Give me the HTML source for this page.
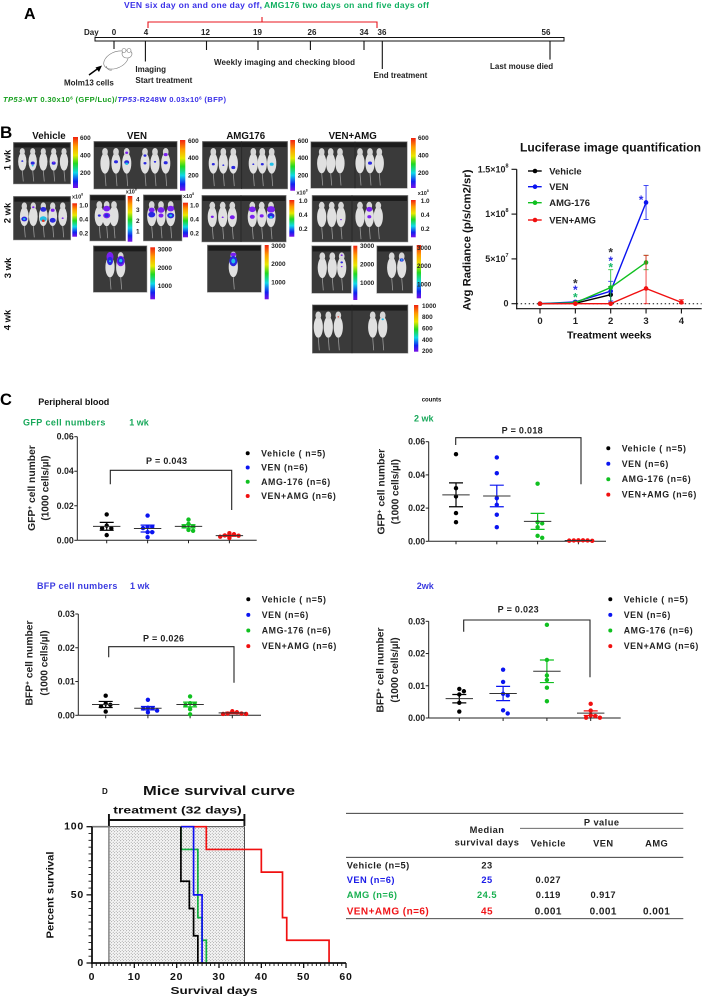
<!DOCTYPE html>
<html lang="en">
<head>
<meta charset="utf-8">
<title>Multi-panel figure: venetoclax and AMG176 treatment in mice</title>
<style>
html,body{margin:0;padding:0;background:#fff;}
svg{display:block;font-family:"Liberation Sans",Arial,sans-serif;font-weight:bold;}
</style>
</head>
<body>
<svg id="figure" xmlns="http://www.w3.org/2000/svg" width="707" height="997" viewBox="0 0 707 997">
<defs>
<linearGradient id="rainbow" x1="0" y1="0" x2="0" y2="1">
<stop offset="0" stop-color="#f02010"/><stop offset="0.18" stop-color="#ff9a00"/><stop offset="0.36" stop-color="#e8e800"/><stop offset="0.52" stop-color="#20d820"/><stop offset="0.7" stop-color="#10d8e8"/><stop offset="0.87" stop-color="#1020f0"/><stop offset="1" stop-color="#7a10e8"/>
</linearGradient>
<pattern id="stipple" width="3" height="3" patternUnits="userSpaceOnUse">
<rect width="3" height="3" fill="#f6f6f6"/><circle cx="0.7" cy="0.7" r="0.45" fill="#777"/><circle cx="2.2" cy="2.2" r="0.45" fill="#777"/>
</pattern>
</defs>

<rect width="707" height="997" fill="#fff"/>

<!-- Panel A -->
<g id="panel-a">
<text x="24" y="19" font-size="16" fill="#000">A</text>
<text x="124" y="8" font-size="8.5" fill="#3a30e8" textLength="138">VEN six day on and one day off,</text>
<text x="264" y="8" font-size="8.5" fill="#10b060" textLength="165">AMG176 two days on and five days off</text>
<path d="M148 28V22H377V28M262 22V17" fill="none" stroke="#e8141c" stroke-width="1.1"/>
<text x="84" y="35" font-size="8" fill="#222">Day</text>
<rect x="95" y="37.5" width="469" height="3.5" fill="#fff" stroke="#111" stroke-width="1"/>
<g stroke="#111" stroke-width="1.1">
<line x1="114" x2="114" y1="41" y2="49"/>
<line x1="145.4" x2="145.4" y1="41" y2="61.5"/>
<line x1="206.5" x2="206.5" y1="41" y2="50"/>
<line x1="258" x2="258" y1="41" y2="50"/>
<line x1="310.4" x2="310.4" y1="41" y2="50"/>
<line x1="364" x2="364" y1="41" y2="50"/>
<line x1="382.3" x2="382.3" y1="41" y2="69"/>
<line x1="550" x2="550" y1="41" y2="59.6"/>
</g>
<g font-size="8" fill="#222" text-anchor="middle">
<text x="114" y="35">0</text>
<text x="146" y="35">4</text>
<text x="205.5" y="35">12</text>
<text x="257.5" y="35">19</text>
<text x="312" y="35">26</text>
<text x="364" y="35">34</text>
<text x="382" y="35">36</text>
<text x="546" y="35">56</text>
</g>
<g fill="#fff" stroke="#777" stroke-width="0.6">
<ellipse cx="116" cy="60" rx="13" ry="8" transform="rotate(-25 116 60)"/>
<ellipse cx="127" cy="54" rx="5" ry="4"/>
<circle cx="124" cy="50.5" r="2"/>
<circle cx="129" cy="50.5" r="2"/>
<path d="M106 66Q108 71 112 70" fill="none"/>
</g>
<path d="M89 75L100 67" stroke="#000" stroke-width="1.4" fill="none"/>
<polygon points="102,65.5 95.5,67.5 99,72" fill="#000"/>
<text x="64" y="85.5" font-size="8" fill="#222">Molm13 cells</text>
<text x="135.4" y="72" font-size="8" fill="#222">Imaging</text>
<text x="135.4" y="83" font-size="8" fill="#222">Start treatment</text>
<text x="214" y="65" font-size="8" fill="#222" textLength="141">Weekly imaging and checking blood</text>
<text x="373.5" y="78" font-size="8" fill="#222">End treatment</text>
<text x="490" y="69" font-size="8" fill="#222">Last mouse died</text>
<text x="3" y="102" font-size="7.6" textLength="223"><tspan fill="#18a020"><tspan font-style="italic">TP53</tspan>-WT 0.30x10<tspan font-size="4.5" dy="-2.5">6</tspan><tspan dy="2.5">  (GFP/Luc)/</tspan></tspan><tspan fill="#3a30e8"><tspan font-style="italic">TP53</tspan>-R248W 0.03x10<tspan font-size="4.5" dy="-2.5">6</tspan><tspan dy="2.5"> (BFP)</tspan></tspan></text>
</g>

<!-- Panel B -->
<g id="panel-b">
<text x="0" y="138" font-size="17" fill="#000">B</text>
<g font-size="9.7" fill="#111" text-anchor="middle">
<text x="49" y="139">Vehicle</text>
<text x="137" y="139">VEN</text>
<text x="245.7" y="139">AMG176</text>
<text x="352.7" y="139">VEN+AMG</text>
</g>
<g font-size="9.5" fill="#111" text-anchor="middle">
<text transform="translate(10.5 160) rotate(-90)">1 wk</text>
<text transform="translate(10.5 213) rotate(-90)">2 wk</text>
<text transform="translate(11 268) rotate(-90)">3 wk</text>
<text transform="translate(10.5 320) rotate(-90)">4 wk</text>
</g>
<g id="mouse-images"></g>
<g id="color-bars"></g>
</g>

<!-- Luciferase chart -->
<g id="luciferase-chart">
<text x="520" y="151.5" font-size="11.5" fill="#111" textLength="181" lengthAdjust="spacingAndGlyphs">Luciferase image quantification</text>
<text transform="translate(470.5 240) rotate(-90)" font-size="11" fill="#111" text-anchor="middle" textLength="141" lengthAdjust="spacingAndGlyphs">Avg Radiance (p/s/cm2/sr)</text>
<text x="609.3" y="338.5" font-size="10.5" fill="#111" text-anchor="middle">Treatment weeks</text>
</g>

<!-- Panel C -->
<g id="panel-c">
<text x="0" y="405" font-size="16.5" fill="#000">C</text>
<text x="38.3" y="404.8" font-size="9" fill="#111">Peripheral blood</text>
<text x="23" y="425.5" font-size="9" letter-spacing="0.4" fill="#18a85a">GFP cell numbers</text>
<text x="129.3" y="425.5" font-size="9" fill="#18a85a">1 wk</text>
<text x="421.7" y="401.5" font-size="6" fill="#111">counts</text>
<text x="414" y="421.5" font-size="9" fill="#18a85a">2 wk</text>
<text x="37" y="589" font-size="9" letter-spacing="0.3" fill="#3a3ae0">BFP cell numbers</text>
<text x="130" y="589" font-size="9" fill="#3a3ae0">1 wk</text>
<text x="416.7" y="589" font-size="9" fill="#3a3ae0">2wk</text>
<g id="dot-charts"></g>
</g>

<!-- Panel D -->
<g id="survival-chart">
<text x="102" y="794" font-size="8" fill="#111">D</text>
<text x="143" y="795" font-size="12.5" fill="#111" textLength="152" lengthAdjust="spacingAndGlyphs">Mice survival curve</text>
<text x="113.3" y="813.5" font-size="10" fill="#111" textLength="128.4" lengthAdjust="spacingAndGlyphs">treatment (32 days)</text>
<text x="170.5" y="994" font-size="10.5" fill="#111" textLength="87" lengthAdjust="spacingAndGlyphs">Survival days</text>
<text transform="translate(53.5 895) rotate(-90)" font-size="10.5" fill="#111" text-anchor="middle" textLength="87" lengthAdjust="spacingAndGlyphs">Percent survival</text>
</g>

<!-- Survival table -->
<g id="survival-table" font-size="9.3" letter-spacing="0.45" fill="#222">
<line x1="346" x2="683.3" y1="813.3" y2="813.3" stroke="#222" stroke-width="0.9"/>
<line x1="520" x2="683.3" y1="828.3" y2="828.3" stroke="#555" stroke-width="0.8"/>
<line x1="346" x2="683.3" y1="857.3" y2="857.3" stroke="#222" stroke-width="0.9"/>
<line x1="346" x2="683.3" y1="918.7" y2="918.7" stroke="#333" stroke-width="0.9"/>
<g text-anchor="middle">
<text x="487" y="833">Median</text>
<text x="487" y="845.5">survival days</text>
<text x="601.7" y="825.7">P value</text>
<text x="548.3" y="846.5">Vehicle</text>
<text x="603.3" y="846.5">VEN</text>
<text x="656.7" y="846.5">AMG</text>
</g>
<g fill="#222">
<text x="346.7" y="868.5">Vehicle (n=5)</text>
<text x="487" y="868.5" text-anchor="middle">23</text>
</g>
<g>
<text x="346.7" y="883.2" fill="#1c1ce8">VEN (n=6)</text>
<text x="487" y="883.2" text-anchor="middle" fill="#1c1ce8">25</text>
<text x="548.3" y="883.2" text-anchor="middle">0.027</text>
</g>
<g>
<text x="346.7" y="898.2" fill="#18b050">AMG (n=6)</text>
<text x="487" y="898.2" text-anchor="middle" fill="#18b050">24.5</text>
<text x="548.3" y="898.2" text-anchor="middle">0.119</text>
<text x="603.3" y="898.2" text-anchor="middle">0.917</text>
</g>
<g>
<text x="346.7" y="914.5" font-size="10" fill="#f01418">VEN+AMG (n=6)</text>
<text x="487" y="914.5" text-anchor="middle" font-size="10" fill="#f01418">45</text>
<text x="548.3" y="914.5" text-anchor="middle" font-size="10">0.001</text>
<text x="603.3" y="914.5" text-anchor="middle" font-size="10">0.001</text>
<text x="656.7" y="914.5" text-anchor="middle" font-size="10">0.001</text>
</g>
</g>
</svg>

<script>
/* ---------- Luciferase chart data ---------- */
const lucSeriesNames = ['Vehicle', 'VEN', 'AMG-176', 'VEN+AMG'];
const lucWeekTicks = [0, 1, 2, 3, 4];
const lucYTickValues = [0, 5e7, 1e8, 1.5e8];
const lucYTickLabels = ['0', '5×10^7', '1×10^8', '1.5×10^8'];
const lucVehicle = [0, 0.05e7, 1.0e7];
const lucVehicleErr = [0, 0.05e7, 0.9e7];
const lucVen = [0, 0.2e7, 1.4e7, 11.3e7];
const lucVenErr = [0, 0.1e7, 1.1e7, 1.9e7];
const lucAmg = [0, 0.1e7, 1.8e7, 4.6e7];
const lucAmgErr = [0, 0.1e7, 2.0e7, 0.8e7];
const lucCombo = [0, 0, 0, 1.7e7, 0.15e7];
const lucComboErr = [0, 0, 0, 3.7e7, 0.3e7];

/* ---------- Dot chart data (1000 cells/ul) ---------- */
const dotGroupNames = ['Vehicle ( n=5)', 'VEN (n=6)', 'AMG-176 (n=6)', 'VEN+AMG (n=6)'];
const gfpTickValues = [0, 0.02, 0.04, 0.06];
const gfpTickLabels = ['0.00', '0.02', '0.04', '0.06'];
const bfpTickValues = [0, 0.01, 0.02, 0.03];
const bfpTickLabels = ['0.00', '0.01', '0.02', '0.03'];

const gfp1wkVehicle = [0.015, 0.0085, 0.007, 0.007, 0.003];
const gfp1wkVen = [0.0143, 0.0078, 0.0078, 0.0071, 0.0047, 0.0047, 0.0018];
const gfp1wkAmg = [0.012, 0.0095, 0.008, 0.008, 0.006, 0.0055];
const gfp1wkCombo = [0.0041, 0.0035, 0.0028, 0.0027, 0.0021, 0.0014];
const gfp1wkMeans = [0.0081, 0.0068, 0.0081, 0.0027];
const gfp1wkErrors = [0.0023, 0.002, 0.0009, 0.0004];

const gfp2wkVehicle = [0.0525, 0.032, 0.027, 0.017, 0.0115];
const gfp2wkVen = [0.0505, 0.041, 0.026, 0.022, 0.016, 0.0085];
const gfp2wkAmg = [0.0347, 0.0115, 0.0108, 0.0085, 0.0033, 0.0021];
const gfp2wkCombo = [0.0006, 0.0006, 0.0005, 0.0005, 0.0004, 0.0003];
const gfp2wkMeans = [0.028, 0.0273, 0.012, 0.0005];
const gfp2wkErrors = [0.0072, 0.0065, 0.0048, 0.0001];

const bfp1wkVehicle = [0.0058, 0.0035, 0.0031, 0.0027, 0.0011];
const bfp1wkVen = [0.0046, 0.0022, 0.0021, 0.002, 0.0014, 0.0009];
const bfp1wkAmg = [0.0056, 0.0036, 0.0033, 0.0031, 0.0018, 0.0003];
const bfp1wkCombo = [0.0012, 0.0009, 0.0005, 0.0005, 0.0004, 0.0004];
const bfp1wkMeans = [0.0032, 0.0021, 0.0032, 0.0007];
const bfp1wkErrors = [0.0009, 0.0005, 0.0007, 0.0002];

const bfp2wkVehicle = [0.009, 0.0083, 0.0073, 0.0047, 0.002];
const bfp2wkVen = [0.015, 0.0112, 0.0075, 0.007, 0.0024, 0.0014];
const bfp2wkAmg = [0.0289, 0.018, 0.0132, 0.0118, 0.0094, 0.0052];
const bfp2wkCombo = [0.0044, 0.0023, 0.0008, 0.0006, 0.0001, 0.0001];
const bfp2wkMeans = [0.006, 0.0076, 0.0145, 0.0015];
const bfp2wkErrors = [0.0013, 0.0022, 0.0035, 0.0007];

/* ---------- Survival data ---------- */
const survivalXTicks = [0, 10, 20, 30, 40, 50, 60];
const survivalYTicks = [0, 50, 100];
const treatmentStartDay = 4;
const treatmentEndDay = 36;
const vehicleDays = [21, 23, 24, 25];
const vehicleSurvival = [60, 40, 20, 0];
const venDays = [24, 26];
const venSurvival = [50, 0];
const amgDays = [21, 25, 26, 27];
const amgSurvival = [83.3, 33.3, 16.7, 0];
const comboDays = [27, 40, 45, 46, 56];
const comboSurvival = [83.3, 66.7, 33.3, 16.7, 0];

/* ---------- Helpers ---------- */
const NS = 'http://www.w3.org/2000/svg';
const GROUP_COLORS = ['#000000', '#0a14f0', '#10c020', '#f01010'];
const fig = document.getElementById('figure');

function mk(tag, attrs, parent) {
  const e = document.createElementNS(NS, tag);
  for (const k in attrs) e.setAttribute(k, attrs[k]);
  parent.appendChild(e);
  return e;
}
function label(parent, x, y, str, attrs) {
  const t = mk('text', Object.assign({ x: x, y: y, 'dominant-baseline': 'central' }, attrs), parent);
  const parts = String(str).split('^');
  t.appendChild(document.createTextNode(parts[0]));
  if (parts[1]) {
    const s = mk('tspan', { dy: -3, 'font-size': parseFloat(attrs['font-size']) * 0.6 }, t);
    s.textContent = parts[1];
  }
  return t;
}

/* ---------- Luciferase chart ---------- */
(function () {
  const root = document.getElementById('luciferase-chart');
  const xS = w => 540 + w * 35.35;
  const yS = v => 303.7 - (v / 1.5e8) * 134.4;
  const all = [
    { values: lucVehicle, errs: lucVehicleErr, color: GROUP_COLORS[0] },
    { values: lucVen, errs: lucVenErr, color: GROUP_COLORS[1] },
    { values: lucAmg, errs: lucAmgErr, color: GROUP_COLORS[2] },
    { values: lucCombo, errs: lucComboErr, color: GROUP_COLORS[3] }
  ];

  const zero = mk('line', { x1: 516.7, x2: 701.7, y1: yS(0), y2: yS(0), stroke: '#111', 'stroke-width': 1, 'stroke-dasharray': '1.4 2.6' }, root);
  
  

  const axisY = mk('line', { x1: 516.7, x2: 516.7, y1: yS(1.5e8), y2: 309.2, stroke: '#111', 'stroke-width': 1.2 }, root);
  
  
  const axisX = mk('line', { x1: 516.2, x2: 701.7, y1: 308.7, y2: 308.7, stroke: '#111', 'stroke-width': 1.2 }, root);
  
  

  lucYTickValues.forEach((v, i) => {
    const t = mk('line', { x1: 511.5, x2: 516.7, y1: yS(v), y2: yS(v), stroke: '#111', 'stroke-width': 1.1 }, root);
    
    
    const l = label(root, 508.5, yS(v), lucYTickLabels[i], { 'font-size': 9, 'text-anchor': 'end', fill: '#222' });
    
    
  });
  lucWeekTicks.forEach(w => {
    const t = mk('line', { x1: xS(w), x2: xS(w), y1: 308.7, y2: 313.5, stroke: '#111', 'stroke-width': 1.1 }, root);
    
    
    const l = label(root, xS(w), 321.7, String(w), { 'font-size': 9.5, 'text-anchor': 'middle', fill: '#222' });
    
    
  });

  all.forEach((s, si) => {
    const g = mk('g', {}, root);
    
    
    const d = s.values.map((v, i) => (i ? 'L' : 'M') + xS(i) + ' ' + yS(v)).join('');
    const line = mk('path', { d: d, fill: 'none', stroke: s.color, 'stroke-width': 1.4 }, g);
    
    
    s.values.forEach((v, i) => {
      const e = s.errs[i];
      if (e > 0) {
        const bar = mk('path', {
          d: 'M' + xS(i) + ' ' + yS(v + e) + 'V' + yS(Math.max(v - e, 0)) +
             'M' + (xS(i) - 2.5) + ' ' + yS(v + e) + 'h5M' + (xS(i) - 2.5) + ' ' + yS(Math.max(v - e, 0)) + 'h5',
          fill: 'none', stroke: s.color, 'stroke-width': 0.9, opacity: 0.85
        }, g);
        
        
      }
      const p = mk('circle', { cx: xS(i), cy: yS(v), r: 2.3, fill: s.color }, g);
      
      
    });
    const ly = [171, 186.7, 202.7, 220][si];
    const ll = mk('line', { x1: 528, x2: 541.7, y1: ly, y2: ly, stroke: s.color, 'stroke-width': 1.4 }, g);
    
    
    const lp = mk('circle', { cx: 535, cy: ly, r: 2.3, fill: s.color }, g);
    
    
    const lt = label(g, 549.3, ly, lucSeriesNames[si], { 'font-size': 9.4, fill: '#222' });
    
    
  });

  [[1, 281, '#333'], [1, 287.7, '#2a2ae8'], [1, 295, '#18b868'],
   [2, 250, '#333'], [2, 258.3, '#2a2ae8'], [2, 265, '#18b868'],
   [2.86, 197.7, '#2a2ae8']].forEach(a => {
    const star = label(root, xS(a[0]), a[1] + 2.5, '*', { 'font-size': 12, 'text-anchor': 'middle', fill: a[2] });
    
    
  });
})();

/* ---------- Dot charts ---------- */
function drawDotChart(c) {
  const root = document.getElementById('dot-charts');
  const g = mk('g', {}, root);
  
  
  const yMax = c.tickValues[c.tickValues.length - 1];
  const yS = v => c.y0 - (v / yMax) * (c.y0 - c.yTop);
  const xS = i => c.xFirst + i * c.xStep;

  const ay = mk('line', { x1: c.x0, x2: c.x0, y1: c.yTop, y2: c.y0, stroke: '#222', 'stroke-width': 1 }, g);
  
  
  const ax = mk('line', { x1: c.x0, x2: c.xEnd, y1: c.y0, y2: c.y0, stroke: '#222', 'stroke-width': 1 }, g);
  
  

  c.tickValues.forEach((v, i) => {
    const t = mk('line', { x1: c.x0 - 3, x2: c.x0, y1: yS(v), y2: yS(v), stroke: '#222', 'stroke-width': 1 }, g);
    
    
    const l = label(g, c.x0 - 3.5, yS(v), c.tickLabels[i], { 'font-size': 8.8, 'text-anchor': 'end', fill: '#222' });
    
    
  });

  c.groups.forEach((vals, gi) => {
    const color = GROUP_COLORS[gi];
    const cx = xS(gi);
    const t = mk('line', { x1: cx, x2: cx, y1: c.y0, y2: c.y0 + 3, stroke: '#222', 'stroke-width': 1 }, g);
    
    

    const grp = mk('g', {}, g);
    
    

    const m = c.means[gi], e = c.errors[gi];
    const err = mk('path', {
      d: 'M' + cx + ' ' + yS(m + e) + 'V' + yS(Math.max(m - e, 0)) +
         'M' + (cx - 7) + ' ' + yS(m + e) + 'h14M' + (cx - 7) + ' ' + yS(Math.max(m - e, 0)) + 'h14',
      fill: 'none', stroke: color, 'stroke-width': 1.2
    }, grp);
    
    

    /* beeswarm offsets derived from the values */
    const placed = [];
    vals.forEach(v => {
      const py = yS(v);
      const d = 4.6;
      const candidates = [0, d, -d, 2 * d, -2 * d, 3 * d, -3 * d];
      let off = candidates[candidates.length - 1];
      for (const cand of candidates) {
        if (!placed.some(p => Math.abs(p.x - cand) < 3.8 && Math.abs(p.y - py) < 3.8)) { off = cand; break; }
      }
      placed.push({ x: off, y: py });
      const dot = mk('circle', { cx: cx + off, cy: py, r: 2.2, fill: color }, grp);
      
      
    });

    const mean = mk('line', { x1: cx - 13.7, x2: cx + 13.7, y1: yS(m), y2: yS(m), stroke: '#333', 'stroke-width': 1 }, grp);
    
    

    const ly = c.legendY + gi * c.legendStep;
    const lm = mk('circle', { cx: c.legendX, cy: ly, r: 2, fill: color }, g);
    
    
    const lt = label(g, c.legendX + 13.4, ly, dotGroupNames[gi], { 'font-size': 8.8, 'letter-spacing': 0.6, fill: '#222' });
    
    
  });

  const b = c.bracket;
  const br = mk('path', { d: 'M' + b[0] + ' ' + b[1] + 'V' + b[2] + 'H' + b[3] + 'V' + b[4], fill: 'none', stroke: '#222', 'stroke-width': 1.1 }, g);
  
  
  const pt = label(g, c.pX, c.pY, c.pText, { 'font-size': 9, 'letter-spacing': 0.3, 'text-anchor': 'middle', fill: '#222' });
  
  

  const y1 = mk('text', { transform: 'translate(' + c.titleX1 + ' ' + c.titleY + ') rotate(-90)', 'font-size': 10.3, fill: '#222', 'text-anchor': 'middle' }, g);
  
  
  y1.appendChild(document.createTextNode(c.marker));
  const sup = mk('tspan', { dy: -3, 'font-size': 6.5 }, y1);
  sup.textContent = '+';
  const rest = mk('tspan', { dy: 3 }, y1);
  rest.textContent = ' cell number';
  const y2 = mk('text', { transform: 'translate(' + c.titleX2 + ' ' + c.titleY + ') rotate(-90)', 'font-size': 10, fill: '#222', 'text-anchor': 'middle' }, g);
  
  
  y2.textContent = '(1000 cells/µl)';
}

drawDotChart({
  name: 'gfp-1wk-chart', marker: 'GFP', tickValues: gfpTickValues, tickLabels: gfpTickLabels,
  groups: [gfp1wkVehicle, gfp1wkVen, gfp1wkAmg, gfp1wkCombo], means: gfp1wkMeans, errors: gfp1wkErrors,
  x0: 77.3, xEnd: 256.7, y0: 540.3, yTop: 436.7, xFirst: 106.7, xStep: 40.9,
  legendX: 247.7, legendY: 453.3, legendStep: 14.25,
  bracket: [110.3, 484.3, 470.3, 231.7, 510], pX: 166.7, pY: 461, pText: 'P = 0.043',
  titleX1: 35, titleX2: 48.5, titleY: 488
});
drawDotChart({
  name: 'gfp-2wk-chart', marker: 'GFP', tickValues: gfpTickValues, tickLabels: gfpTickLabels,
  groups: [gfp2wkVehicle, gfp2wkVen, gfp2wkAmg, gfp2wkCombo], means: gfp2wkMeans, errors: gfp2wkErrors,
  x0: 428.7, xEnd: 606, y0: 541.3, yTop: 441.7, xFirst: 456, xStep: 40.8,
  legendX: 608.3, legendY: 448.3, legendStep: 15.45,
  bracket: [455.7, 445, 437.7, 581, 484.3], pX: 522.3, pY: 430.7, pText: 'P = 0.018',
  titleX1: 384.5, titleX2: 398.5, titleY: 491.7
});
drawDotChart({
  name: 'bfp-1wk-chart', marker: 'BFP', tickValues: bfpTickValues, tickLabels: bfpTickLabels,
  groups: [bfp1wkVehicle, bfp1wkVen, bfp1wkAmg, bfp1wkCombo], means: bfp1wkMeans, errors: bfp1wkErrors,
  x0: 78.3, xEnd: 261, y0: 715.3, yTop: 614, xFirst: 105.7, xStep: 42.2,
  legendX: 248.3, legendY: 599.3, legendStep: 15.6,
  bracket: [108.7, 657.3, 646.7, 234, 682.7], pX: 163.7, pY: 638.3, pText: 'P = 0.026',
  titleX1: 32.5, titleX2: 47.5, titleY: 663
});
drawDotChart({
  name: 'bfp-2wk-chart', marker: 'BFP', tickValues: bfpTickValues, tickLabels: bfpTickLabels,
  groups: [bfp2wkVehicle, bfp2wkVen, bfp2wkAmg, bfp2wkCombo], means: bfp2wkMeans, errors: bfp2wkErrors,
  x0: 428.7, xEnd: 620.7, y0: 718, yTop: 621.3, xFirst: 459.3, xStep: 43.8,
  legendX: 610.3, legendY: 599.3, legendStep: 15.6,
  bracket: [463.7, 631.7, 620, 590, 677.3], pX: 518.3, pY: 609.3, pText: 'P = 0.023',
  titleX1: 383.5, titleX2: 397.8, titleY: 670
});

/* ---------- Survival chart ---------- */
(function () {
  const root = document.getElementById('survival-chart');
  const xS = d => 92 + d * (254 / 60);
  const yS = p => 963 - p * 1.363;

  const box = mk('rect', { x: xS(treatmentStartDay), y: yS(100), width: xS(treatmentEndDay) - xS(treatmentStartDay), height: yS(0) - yS(100), fill: 'url(#stipple)', stroke: '#222', 'stroke-width': 0.8 }, root);
  
  

  const bar = mk('path', {
    d: 'M' + xS(treatmentStartDay) + ' 820H' + xS(treatmentEndDay) +
       'M' + xS(treatmentStartDay) + ' 814V826M' + xS(treatmentEndDay) + ' 814V826',
    fill: 'none', stroke: '#111', 'stroke-width': 1.9
  }, root);
  
  

  const base = mk('line', { x1: xS(0), x2: xS(treatmentStartDay), y1: yS(100), y2: yS(100), stroke: '#777', 'stroke-width': 1.6 }, root);
  
  

  const curves = [
    { name: 'curve-ven-amg', days: comboDays, surv: comboSurvival, color: '#f01010' },
    { name: 'curve-amg', days: amgDays, surv: amgSurvival, color: '#12b040' },
    { name: 'curve-ven', days: venDays, surv: venSurvival, color: '#1010f0' },
    { name: 'curve-vehicle', days: vehicleDays, surv: vehicleSurvival, color: '#000000' }
  ];
  curves.forEach(c => {
    const startDay = Math.min.apply(null, vehicleDays);
    let d = 'M' + xS(startDay) + ' ' + yS(100);
    c.days.forEach((day, i) => {
      d += 'H' + xS(day) + 'V' + yS(c.surv[i]);
    });
    const p = mk('path', { d: d, fill: 'none', stroke: c.color, 'stroke-width': 1.7 }, root);
    
    
  });

  const ay = mk('line', { x1: 92, x2: 92, y1: yS(100), y2: 964, stroke: '#111', 'stroke-width': 1.8 }, root);
  
  
  const ax = mk('line', { x1: 91, x2: xS(60), y1: 963, y2: 963, stroke: '#111', 'stroke-width': 1.8 }, root);
  
  

  let minor = '';
  for (let d = 0; d <= 60; d++) {
    if (d % 10) minor += 'M' + xS(d) + ' 963v3';
  }
  for (let p = 0; p <= 100; p += 5) {
    if (p % 50) minor += 'M92 ' + yS(p) + 'h-3.5';
  }
  const mt = mk('path', { d: minor, fill: 'none', stroke: '#111', 'stroke-width': 0.9 }, root);
  
  

  survivalXTicks.forEach(d => {
    const t = mk('line', { x1: xS(d), x2: xS(d), y1: 963, y2: 968, stroke: '#111', 'stroke-width': 1.3 }, root);
    
    
    const l = label(root, xS(d), 977, String(d), { 'font-size': 10.5, 'letter-spacing': 0.8, 'text-anchor': 'middle', fill: '#111' });
    
    
  });
  survivalYTicks.forEach(p => {
    const t = mk('line', { x1: 86.5, x2: 92, y1: yS(p), y2: yS(p), stroke: '#111', 'stroke-width': 1.3 }, root);
    
    
    const l = label(root, 84, yS(p), String(p), { 'font-size': 10.5, 'letter-spacing': 0.8, 'text-anchor': 'end', fill: '#111' });
    
    
  });
})();

/* ---------- Imaging panels (illustrative photographs) ---------- */
function imagePanel(name, x, y, w, h, mice, spots, dividerX) {
  const root = document.getElementById('mouse-images');
  const g = mk('g', {}, root);
  
  
  const bg = mk('rect', { x: x, y: y, width: w, height: h, fill: '#3a3a3a', stroke: '#999', 'stroke-width': 0.5 }, g);
  
  
  const top = mk('rect', { x: x + 1, y: y + 1, width: w - 2, height: h * 0.1, fill: '#1c1c1c' }, g);
  
  
  if (dividerX) {
    const dv = mk('line', { x1: dividerX, x2: dividerX, y1: y, y2: y + h, stroke: '#222', 'stroke-width': 0.7 }, g);
    
    
  }
  const bw = Math.min(h * 0.1, 4.6), bt = y + h * 0.16, bh = h * 0.52;
  mice.forEach(mx => {
    const tail = mk('line', { x1: mx, x2: mx + 1, y1: bt + bh, y2: y + h * 0.94, stroke: '#9a9a9a', 'stroke-width': 0.8 }, g);
    
    
    const body = mk('ellipse', { cx: mx, cy: bt + bh * 0.58, rx: bw, ry: bh * 0.42, fill: '#e0e0e0' }, g);
    
    
    const head = mk('ellipse', { cx: mx, cy: bt + bh * 0.12, rx: bw * 0.62, ry: bh * 0.16, fill: '#d6d6d6' }, g);
    
    
  });
  spots.forEach(s => {
    const sp = mk('ellipse', { cx: mice[s[0]] + (s[4] || 0), cy: y + h * s[1], rx: s[3], ry: s[3] * (s[5] || 0.8), fill: s[2] }, g);
    
    
  });
}
const B = '#2a28e0', P = '#7a20f0', C = '#20c0e8', G = '#30d060', R = '#e83020';
imagePanel('image-vehicle-1wk', 13.3, 142.3, 57.4, 41.7, [22.3, 32.7, 43.3, 53.7, 64], [[0, .45, B, 1], [1, .5, B, 2], [3, .5, B, 2], [1, .56, C, 1], [3, .48, P, 1]]);
imagePanel('image-ven-1wk', 93.7, 141.3, 83.6, 47.7, [105, 116, 126.7, 145, 155, 165.7], [[1, .43, B, 2], [2, .44, B, 2.5], [2, .47, C, 1.5], [2, .24, P, 1.5], [3, .3, B, 1.5], [3, .46, B, 1.5], [4, .43, B, 1.2], [5, .28, P, 2], [5, .45, B, 2]]);
imagePanel('image-amg176-1wk', 202.3, 141.3, 85.4, 47.7, [213.3, 223.3, 233.3, 253.3, 262.3, 271.7], [[0, .48, B, 1.5], [1, .5, B, 1], [2, .55, B, 2], [3, .48, B, 1], [4, .48, B, 1.5], [5, .48, C, 2]], 241.7);
imagePanel('image-ven-amg-1wk', 310.7, 141.6, 96.6, 46.7, [321.7, 330.7, 340, 360, 370, 379.3], [[4, .46, B, 2]], 355);
imagePanel('image-vehicle-2wk', 13.3, 196.3, 57.4, 43.7, [24.3, 33.3, 43.3, 52.7, 62.7], [[0, .52, B, 3], [0, .52, C, 1.3], [1, .25, P, 1.2], [2, .3, B, 3], [2, .52, C, 3.5], [2, .56, R, 1.5], [3, .32, P, 2], [3, .55, B, 3], [4, .5, P, 1]]);
imagePanel('image-ven-a-2wk', 89.7, 194.7, 36, 46.3, [99.3, 106.7, 114], [[0, .45, B, 1.5], [1, .3, P, 3.5], [1, .45, P, 3.5], [1, .45, B, 2]]);
imagePanel('image-ven-b-2wk', 143.3, 194.7, 38.7, 46.3, [151.7, 161, 170.7], [[0, .33, P, 3], [0, .43, B, 3.5], [1, .33, P, 3.5], [1, .45, P, 2.5], [2, .3, P, 3.5], [2, .45, B, 3.5], [2, .45, C, 1.5]]);
imagePanel('image-amg176-2wk', 201.7, 195.3, 84.6, 46.7, [212.3, 222.7, 232.3, 252.3, 261.7, 271], [[0, .46, P, 1.5], [1, .47, P, 1], [2, .47, P, 2.5], [3, .3, P, 3.5], [3, .46, P, 2.5], [4, .44, P, 2], [5, .3, P, 4], [5, .44, B, 3.5], [5, .47, C, 1.5]], 241);
imagePanel('image-ven-amg-2wk', 312, 195.3, 96, 46.7, [321.7, 331.7, 341, 360, 369.3, 378.3], [[2, .52, P, .8], [4, .3, P, 3], [4, .46, P, 2]], 352);
imagePanel('image-ven-3wk', 93.3, 245.7, 53.7, 46.6, [110, 120.7], [[0, .24, P, 3.5, 0, 1.4], [0, .33, B, 3, 0, 1.4], [0, .33, C, 1, 0, 1], [1, .33, P, 4, 0, 1.3], [1, .32, B, 3, 0, 1.3], [1, .32, C, 1.6, 0, 1]]);
imagePanel('image-amg176-3wk', 207.3, 245, 54, 47.3, [233.3], [[0, .2, P, 3, 0, .6], [0, .34, B, 4, 0, 1.3], [0, .34, C, 2, 0, 1.2]]);
imagePanel('image-ven-amg-a-3wk', 311.7, 245.7, 39.6, 47.6, [322.3, 332.3, 341.7], [[2, .2, P, 1], [2, .35, B, 1.3], [2, .44, P, .8]]);
imagePanel('image-ven-amg-b-3wk', 376.7, 245.7, 36, 47.6, [391.7, 401.7], [[1, .3, B, 2], [1, .3, C, 1]]);
imagePanel('image-ven-amg-4wk', 312.3, 304.7, 95.7, 48.6, [318.3, 328.3, 338.3, 372.7, 382.7], [[4, .3, C, 1.2], [2, .25, R, .8]], 352);

function colorBar(name, x, y, w, h, labelX, labels, exponent) {
  const root = document.getElementById('color-bars');
  const g = mk('g', {}, root);
  
  
  const r = mk('rect', { x: x, y: y, width: w, height: h, fill: 'url(#rainbow)' }, g);
  
  
  labels.forEach(l => {
    const t = label(g, labelX, l[1], l[0], { 'font-size': 6.4, fill: '#222' });
    
    
  });
  if (exponent) {
    const e = label(g, exponent[0], exponent[1], 'x10^8', { 'font-size': 5.5, fill: '#222' });
    
    
  }
}
const z2 = v => 120 + v / 3, z3 = v => 240 + v / 3;
colorBar('colorbar-vehicle-1wk', 73, 137, 5, 51, 80, [['600', z2(56)], ['400', z2(108)], ['200', z2(160)]]);
colorBar('colorbar-ven-1wk', 180, 140, 5.3, 50.7, 188, [['600', z2(64)], ['400', z2(116)], ['200', z2(168)]]);
colorBar('colorbar-amg176-1wk', 290.3, 140, 4.7, 50.7, 297.7, [['600', z2(64)], ['400', z2(116)], ['200', z2(168)]]);
colorBar('colorbar-ven-amg-1wk', 411, 138, 4.7, 50, 418, [['600', z2(56)], ['400', z2(108)], ['200', z2(161)]]);
colorBar('colorbar-vehicle-2wk', 72.3, 203.3, 4.7, 33.4, 79.3, [['1.0', z2(258)], ['0.4', z2(300)], ['0.2', z2(342)]], [72, 197.5]);
colorBar('colorbar-ven-a-2wk', 127.7, 196, 4.6, 45.7, 136, [['4', z2(240)], ['3', z2(272)], ['2', z2(304)], ['1', z2(336)]], [125.7, 192.5]);
colorBar('colorbar-ven-b-2wk', 183, 202.7, 5, 34.6, 190, [['1.0', z2(258)], ['0.4', z2(300)], ['0.2', z2(342)]], [183, 197]);
colorBar('colorbar-amg176-2wk', 289.3, 200, 5, 36.7, 298.7, [['1.0', z2(244)], ['0.4', z2(286)], ['0.2', z2(328)]], [296.5, 193.5]);
colorBar('colorbar-ven-amg-2wk', 411, 200, 4.7, 37.3, 420.7, [['1.0', z2(244)], ['0.4', z2(286)], ['0.2', z2(328)]], [417.7, 194]);
colorBar('colorbar-ven-3wk', 150.3, 247.3, 4.7, 52, 157.7, [['3000', z3(30)], ['2000', z3(85)], ['1000', z3(140)]]);
colorBar('colorbar-amg176-3wk', 264.7, 245, 4, 54.3, 271.3, [['3000', z3(20)], ['2000', z3(74)], ['1000', z3(129)]]);
colorBar('colorbar-ven-amg-a-3wk', 353.3, 245.7, 4, 54.3, 360, [['3000', z3(20)], ['2000', z3(75)], ['1000', z3(130)]]);
colorBar('colorbar-ven-amg-b-3wk', 416.7, 245, 4.3, 53.3, 417, [['3000', z3(25)], ['2000', z3(80)], ['1000', z3(135)]]);
colorBar('colorbar-ven-amg-4wk', 414, 305, 4.3, 46.7, 422, [['1000', z3(199)], ['800', z3(233)], ['600', z3(267)], ['400', z3(301)], ['200', z3(335)]]);
</script>
</body>
</html>
